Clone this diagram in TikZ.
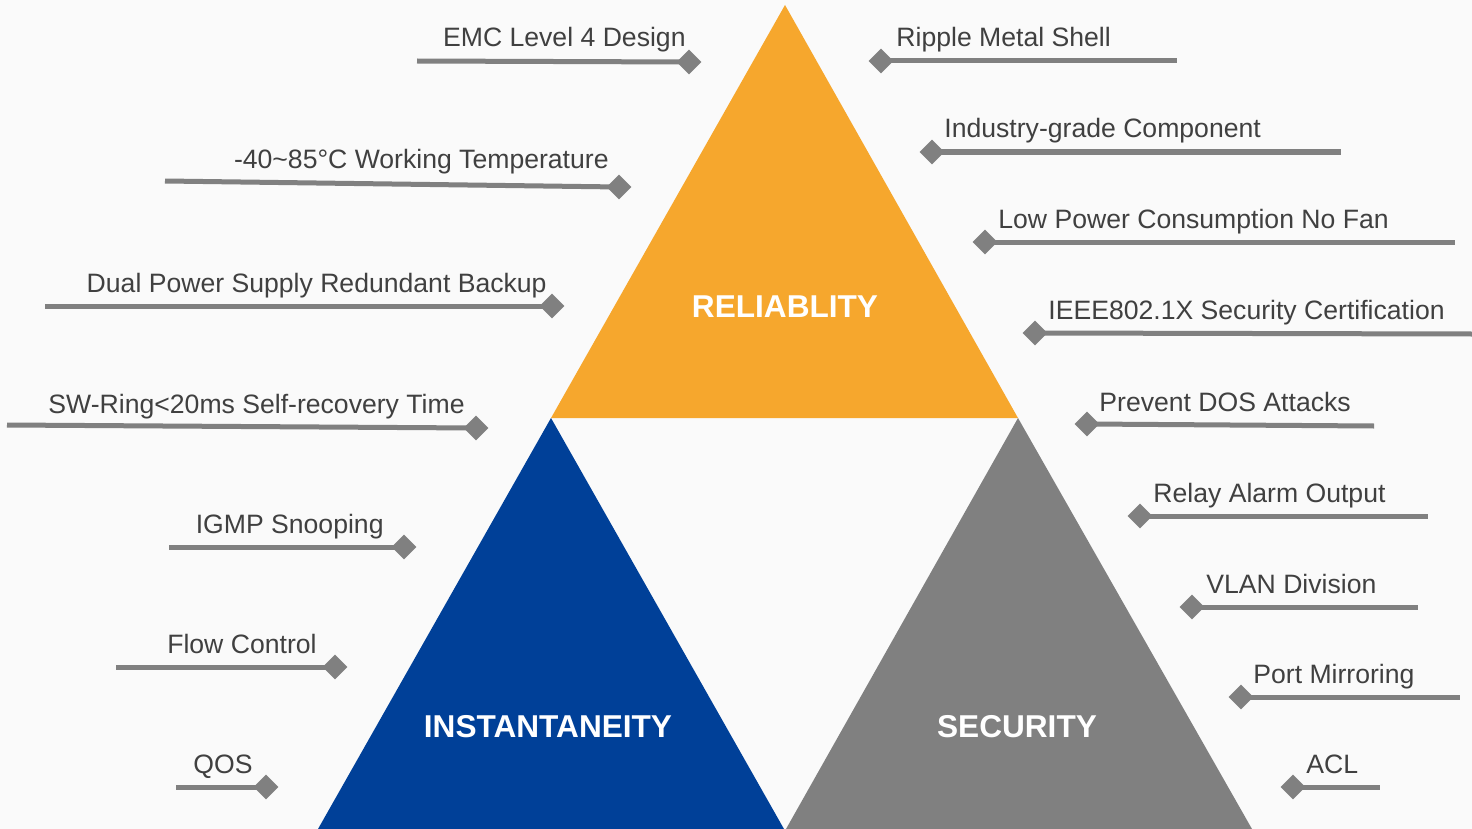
\documentclass[tikz,border=0pt]{standalone}
\usepackage{fontspec}
\setmainfont{Liberation Sans}
\usetikzlibrary{shapes.geometric}
\definecolor{orng}{RGB}{246,167,45}
\definecolor{blu}{RGB}{0,64,152}
\definecolor{gryt}{RGB}{128,128,128}
\definecolor{gryl}{RGB}{128,128,128}
\definecolor{txt}{RGB}{64,64,64}
\definecolor{bgc}{RGB}{250,250,250}
\begin{document}
\begin{tikzpicture}[x=0.5pt,y=-0.5pt,
  dia/.style={diamond, fill=gryl, inner sep=0pt, minimum size=12.5pt},
  feat/.style={draw=gryl, line width=2.5pt},
  lbll/.style={font=\fontsize{13.3}{16}\selectfont, text=txt, inner sep=0pt, anchor=base east},
  lblr/.style={font=\fontsize{13.3}{16}\selectfont, text=txt, inner sep=0pt, anchor=base west},
  ttl/.style={font=\fontsize{15.8}{19}\selectfont\bfseries, text=white, inner sep=0pt}]
\fill[bgc] (0,0) rectangle (1472,829);
\useasboundingbox (0,0) rectangle (1472,829);

% triangles
\coordinate (rt) at (785,5);
\coordinate (rl) at (551,418);
\coordinate (rr) at (1018,418);
\coordinate (bl) at (318,829);
\coordinate (br) at (784,829);
\coordinate (gl) at (786,829);
\coordinate (gr) at (1252,829);
\fill[orng] (rt) -- (rl) -- (rr) -- cycle;
\fill[blu] (rl) -- (bl) -- (br) -- cycle;
\fill[gryt] (rr) -- (gl) -- (gr) -- cycle;
\node[ttl] (rel) at (785,307) {RELIABLITY};
\node[ttl] (ins) at (548,727) {INSTANTANEITY};
\node[ttl] (sec) at (1017,727) {SECURITY};

% left features
\coordinate (el1) at (417,61);
\coordinate (el2) at (165,181);
\coordinate (el3) at (45,306);
\coordinate (el4) at (7,425);
\coordinate (el5) at (169,547);
\coordinate (el6) at (116,667);
\coordinate (el7) at (176,787);
\node[dia] (dl1) at (689,62) {};
\node[dia] (dl2) at (619,187) {};
\node[dia] (dl3) at (552,306) {};
\node[dia] (dl4) at (476,428) {};
\node[dia] (dl5) at (404,547) {};
\node[dia] (dl6) at (335,667) {};
\node[dia] (dl7) at (266,787) {};
\draw[feat] (el1) -- (dl1.center);
\draw[feat] (el2) -- (dl2.center);
\draw[feat] (el3) -- (dl3.center);
\draw[feat] (el4) -- (dl4.center);
\draw[feat] (el5) -- (dl5.center);
\draw[feat] (el6) -- (dl6.center);
\draw[feat] (el7) -- (dl7.center);
\node[lbll] (tl1) at (686,47) {EMC Level 4 Design};
\node[lbll] (tl2) at (609,169) {-40\textasciitilde85°C Working Temperature};
\node[lbll] (tl3) at (547,292) {Dual Power Supply Redundant Backup};
\node[lbll] (tl4) at (465,413) {SW-Ring<20ms Self-recovery Time};
\node[lbll] (tl5) at (384,533) {IGMP Snooping};
\node[lbll] (tl6) at (317,653) {Flow Control};
\node[lbll] (tl7) at (253,773) {QOS};

% right features
\coordinate (er1) at (1177,61);
\coordinate (er2) at (1341,152);
\coordinate (er3) at (1455,242);
\coordinate (er4) at (1472,334);
\coordinate (er5) at (1374,426);
\coordinate (er6) at (1428,516);
\coordinate (er7) at (1418,607);
\coordinate (er8) at (1460,697);
\coordinate (er9) at (1380,787);
\node[dia] (dr1) at (881,61) {};
\node[dia] (dr2) at (932,152) {};
\node[dia] (dr3) at (985,242) {};
\node[dia] (dr4) at (1035,333) {};
\node[dia] (dr5) at (1087,424) {};
\node[dia] (dr6) at (1140,516) {};
\node[dia] (dr7) at (1192,607) {};
\node[dia] (dr8) at (1241,697) {};
\node[dia] (dr9) at (1293,787) {};
\draw[feat] (dr1.center) -- (er1);
\draw[feat] (dr2.center) -- (er2);
\draw[feat] (dr3.center) -- (er3);
\draw[feat] (dr4.center) -- (er4);
\draw[feat] (dr5.center) -- (er5);
\draw[feat] (dr6.center) -- (er6);
\draw[feat] (dr7.center) -- (er7);
\draw[feat] (dr8.center) -- (er8);
\draw[feat] (dr9.center) -- (er9);
\node[lblr] (tr1) at (896,47) {Ripple Metal Shell};
\node[lblr] (tr2) at (944,138) {Industry-grade Component};
\node[lblr] (tr3) at (998,228) {Low Power Consumption No Fan};
\node[lblr] (tr4) at (1048,319) {IEEE802.1X Security Certification};
\node[lblr] (tr5) at (1099,411) {Prevent DOS Attacks};
\node[lblr] (tr6) at (1153,502) {Relay Alarm Output};
\node[lblr] (tr7) at (1206,593) {VLAN Division};
\node[lblr] (tr8) at (1253,683) {Port Mirroring};
\node[lblr] (tr9) at (1306,773) {ACL};
\end{tikzpicture}
\end{document}
